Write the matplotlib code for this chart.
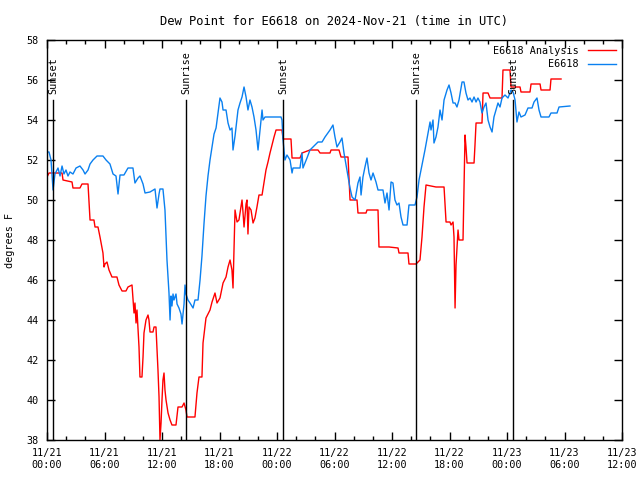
import matplotlib
matplotlib.use('Agg')
import matplotlib.pyplot as plt
import numpy as np
from matplotlib.ticker import MultipleLocator

# hours since 2024-11-21 00:00 UTC
obs_hours = [0.0, 0.21, 0.42, 0.63, 0.83, 1.15, 1.36, 1.57, 1.77, 1.98, 2.19, 2.40, 2.71, 3.03, 3.44, 3.76, 3.97,
             4.28, 4.49, 4.80, 5.22, 5.84, 6.16, 6.57, 6.89, 7.20, 7.41, 7.62, 8.03, 8.45, 8.97, 9.18, 9.50, 9.70,
             10.02, 10.23, 10.75, 11.27, 11.48, 11.69, 11.79, 12.10, 12.31, 12.52, 12.73, 12.84, 12.94, 13.04,
             13.15, 13.25, 13.46, 13.57, 13.77, 13.98, 14.09, 14.30, 14.40, 14.50, 14.71, 14.92, 15.24, 15.44,
             15.76, 15.97, 16.17, 16.38, 16.59, 16.80, 17.01, 17.22, 17.43, 17.64, 17.84, 18.05, 18.26, 18.37,
             18.68, 18.89, 19.10, 19.30, 19.41, 19.62, 19.93, 20.14, 20.35, 20.56, 20.77, 20.97, 21.18, 21.39,
             21.60, 21.81, 22.02, 22.23, 22.44, 22.54, 22.75, 24.42, 24.52, 24.63, 24.83, 25.04, 25.36, 25.57,
             25.67, 26.40, 26.61, 26.71, 27.13, 27.44, 27.76, 28.28, 28.70, 29.01, 29.53, 29.84, 30.05, 30.26,
             30.57, 30.78, 30.99, 31.30, 31.62, 31.83, 32.14, 32.45, 32.66, 32.77, 32.97, 33.18, 33.39, 33.60,
             33.81, 34.02, 34.33, 34.54, 35.06, 35.27, 35.48, 35.69, 35.90, 36.10, 36.31, 36.52, 36.73, 36.94,
             37.15, 37.57, 37.77, 38.40, 38.61, 38.82, 39.03, 39.24, 39.44, 39.76, 39.97, 40.07, 40.28, 40.38,
             40.59, 40.80, 41.01, 41.22, 41.43, 41.74, 41.95, 42.16, 42.37, 42.58, 42.78, 42.99, 43.31, 43.51,
             43.72, 43.93, 44.14, 44.35, 44.56, 44.77, 44.97, 45.18, 45.39, 45.60, 45.81, 46.02, 46.23, 46.44,
             46.64, 46.85, 47.06, 47.27, 47.48, 47.79, 48.11, 48.42, 48.63, 48.84, 49.04, 49.25, 49.46, 49.88,
             50.19, 50.61, 50.82, 51.13, 51.34, 51.55, 52.38, 52.59, 53.22, 53.43, 54.57]
obs_dewpt = [52.4, 52.4, 52.0, 50.5, 51.3, 51.6, 51.2, 51.7, 51.3, 51.5, 51.2, 51.4, 51.3, 51.6, 51.7, 51.5, 51.3,
             51.5, 51.8, 52.0, 52.2, 52.2, 52.0, 51.8, 51.3, 51.2, 50.3, 51.25, 51.25, 51.6, 51.6, 50.85, 51.1, 51.2,
             50.8, 50.35, 50.4, 50.55, 49.6, 50.3, 50.55, 50.55, 49.5, 47.0, 45.35, 44.0, 45.2, 44.7,
             45.3, 45.0, 45.3, 44.8, 44.6, 44.3, 43.8, 44.8, 45.75, 45.3, 45.0, 44.85, 44.6, 45.0,
             45.0, 46.0, 47.2, 48.8, 50.2, 51.2, 52.0, 52.65, 53.3, 53.6, 54.35, 55.1, 54.9, 54.5,
             54.5, 53.85, 53.5, 53.6, 52.5, 53.2, 54.5, 54.85, 55.15, 55.65, 55.15, 54.5, 55.0, 54.65,
             54.15, 53.5, 52.5, 53.5, 54.5, 54.0, 54.15, 54.15, 54.0, 53.0, 52.0, 52.25, 52.0, 51.35,
             51.6, 51.6, 52.35, 51.6, 52.1, 52.5, 52.65, 52.9, 52.9, 53.15, 53.5, 53.75, 53.15, 52.65,
             52.9, 53.1, 52.35, 51.5, 50.6, 50.15, 50.0, 50.85, 51.15, 50.25, 51.15, 51.65, 52.1, 51.35,
             51.0, 51.35, 50.9, 50.5, 50.5, 49.85, 50.35, 49.5, 50.9, 50.85, 50.0, 49.75, 49.85, 49.15,
             48.75, 48.75, 49.75, 49.75, 50.15, 51.0, 51.5, 52.0, 52.5, 53.35, 53.9, 53.5, 54.0, 52.85,
             53.15, 53.65, 54.5, 54.0, 55.0, 55.5, 55.75, 55.35, 54.85, 54.85, 54.65, 55.0, 55.9, 55.9,
             55.35, 55.0, 55.1, 54.9, 55.15, 54.9, 55.1, 54.9, 54.35, 54.65, 54.85, 54.0, 53.65, 53.4,
             54.15, 54.5, 54.85, 54.65, 55.1, 55.25, 55.1, 55.5, 55.4, 55.0, 53.9, 54.4, 54.15, 54.25,
             54.6, 54.6, 54.9, 55.1, 54.5, 54.15, 54.15, 54.35, 54.35, 54.65, 54.7]

ana_hours = [0.0, 0.21, 1.57, 1.67, 2.61, 2.71, 3.44, 3.65, 4.28, 4.38, 4.49, 4.90, 5.01, 5.32, 5.53, 5.84, 5.95,
             6.05, 6.26, 6.47, 6.78, 7.30, 7.51, 7.83, 8.24, 8.45, 8.87, 9.08, 9.18, 9.29, 9.39, 9.60, 9.70, 9.91,
             10.02, 10.12, 10.33, 10.54, 10.64, 10.75, 11.06, 11.17, 11.37, 11.48, 11.58, 11.69, 11.79, 11.90,
             12.00, 12.10, 12.21, 12.31, 12.42, 12.63, 12.84, 13.04, 13.46, 13.67, 14.09, 14.30, 14.50, 14.61,
             15.44, 15.65, 15.86, 16.17, 16.28, 16.59, 17.01, 17.22, 17.53, 17.74, 18.05, 18.37, 18.68, 18.89,
             19.10, 19.30, 19.41, 19.62, 19.83, 20.03, 20.35, 20.45, 20.56, 20.77, 20.87, 20.97, 21.08, 21.29,
             21.50, 21.70, 21.91, 22.12, 22.44, 22.64, 22.85, 23.06, 23.27, 23.48, 23.69, 23.90, 24.52, 24.63,
             25.46, 25.57, 26.40, 26.61, 27.44, 28.28, 28.49, 29.53, 29.64, 30.47, 30.68, 31.41, 31.62, 32.35,
             32.45, 33.29, 33.39, 34.54, 34.64, 35.69, 36.63, 36.73, 37.67, 37.77, 38.51, 38.71, 38.92, 39.13,
             39.34, 39.55, 40.59, 41.43, 41.64, 42.05, 42.16, 42.37, 42.47, 42.58, 42.68, 42.89, 42.99, 43.41,
             43.62, 43.72, 43.83, 44.56, 44.66, 44.77, 45.39, 45.50, 46.02, 46.23, 47.48, 47.58, 48.31, 48.42,
             49.36, 49.46, 50.40, 50.51, 51.45, 51.55, 52.49, 52.59, 53.64]
ana_dewpt = [51.15, 51.35, 51.35, 51.0, 50.9, 50.6, 50.6, 50.8, 50.8, 49.9, 49.0, 49.0, 48.65, 48.65, 48.15, 47.35,
             46.65, 46.8, 46.9, 46.5, 46.15, 46.15, 45.75, 45.45, 45.45, 45.65, 45.75, 44.35, 44.85, 43.85, 44.5,
             42.65, 41.15, 41.15, 42.15, 43.35, 44.0, 44.25, 44.0, 43.4, 43.4, 43.65, 43.65, 42.5, 41.5, 40.15,
             38.0, 38.85, 40.0, 41.0, 41.35, 40.5, 40.0, 39.35, 39.0, 38.75, 38.75, 39.65, 39.65, 39.85, 39.5,
             39.15, 39.15, 40.35, 41.15, 41.15, 42.85, 44.1, 44.5, 44.9, 45.35, 44.85, 45.1, 45.85, 46.15,
             46.65, 47.0, 46.5, 45.6, 49.5, 48.9, 49.0, 50.0, 49.4, 48.65, 49.8, 50.0, 48.3, 49.65, 49.5,
             48.85, 49.1, 49.65, 50.25, 50.25, 50.85, 51.5, 51.9, 52.35, 52.75, 53.15, 53.5, 53.5, 53.05,
             53.05, 52.1, 52.1, 52.35, 52.5, 52.5, 52.35, 52.35, 52.5, 52.5, 52.15, 52.15, 50.0, 50.0,
             49.35, 49.35, 49.5, 49.5, 47.65, 47.65, 47.6, 47.35, 47.35, 46.8, 46.8, 46.9, 47.0, 48.15,
             49.65, 50.75, 50.65, 50.65, 48.9, 48.9, 48.75, 48.9, 48.15, 44.6, 46.75, 48.5, 48.0, 48.0,
             53.25, 52.65, 51.85, 51.85, 52.75, 53.85, 53.85, 55.35, 55.35, 55.1, 55.1, 56.5, 56.5, 55.65,
             55.65, 55.4, 55.4, 55.8, 55.8, 55.5, 55.5, 56.05, 56.05]

sun_hours = [0.63, 14.50, 24.63, 38.51, 48.63]
sun_labels = ['Sunset', 'Sunrise', 'Sunset', 'Sunrise', 'Sunset']
x_tick_labels = ['11/21\n00:00', '11/21\n06:00', '11/21\n12:00', '11/21\n18:00', '11/22\n00:00', '11/22\n06:00',
                 '11/22\n12:00', '11/22\n18:00', '11/23\n00:00', '11/23\n06:00', '11/23\n12:00']

plt.rcParams['font.family'] = ['DejaVu Sans Mono']
plt.rcParams['font.size'] = 7.3

fig = plt.figure(figsize=(6.4, 4.8), dpi=100)
ax = fig.add_axes([47 / 640, 40 / 480, 575 / 640, 400 / 480])

ax.plot(ana_hours, ana_dewpt, color='#ff0000', lw=1, label='E6618 Analysis')
ax.plot(obs_hours, obs_dewpt, color='#0a80f0', lw=1, label='E6618')

# sunrise / sunset markers
for h, lab in zip(sun_hours, sun_labels):
    ax.plot([h, h], [38, 55.0], color='black', lw=1)
    ax.text(h, 55.3, lab, rotation=90, ha='center', va='bottom')

ax.set_xlim(0, 60)
ax.set_ylim(38, 58)
ax.set_xticks(np.arange(0, 61, 6))
ax.set_xticklabels(x_tick_labels)
ax.xaxis.set_minor_locator(MultipleLocator(2))
ax.yaxis.set_major_locator(MultipleLocator(2))
ax.tick_params(which='both', direction='in', top=True, right=True, width=1)
ax.tick_params(which='major', length=6)
ax.tick_params(axis='x', which='major', pad=6)
ax.tick_params(axis='y', which='major', pad=6)
ax.tick_params(which='minor', length=3)
for s in ax.spines.values():
    s.set_linewidth(1)

ax.set_title('Dew Point for E6618 on 2024-Nov-21 (time in UTC)', pad=11)
ax.set_ylabel('degrees F')
ax.yaxis.set_label_coords(-0.056, 0.5)

leg = ax.legend(loc='upper right', frameon=False, markerfirst=False, handlelength=2.8,
                borderaxespad=0.25, borderpad=0.3, labelspacing=0.35, handletextpad=0.9)
for t in leg.get_texts():
    t.set_ha('right')

fig.savefig('out.png', dpi=100)
